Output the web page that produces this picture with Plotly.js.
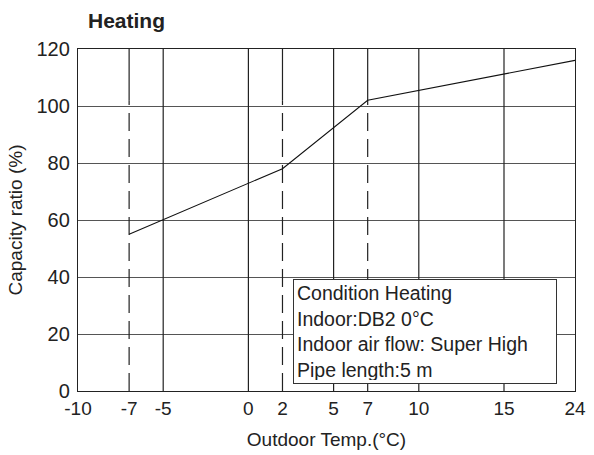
<!DOCTYPE html>
<html>
<head>
<meta charset="utf-8">
<script src="https://cdn.plot.ly/plotly-3.0.1.min.js"></script>
<style>html,body{margin:0;padding:0;background:#fff;}#chart{width:594px;height:455px;}</style>
</head>
<body>
<div id="chart"></div>
<script>
// ---- data ----
const xTickValues = [-10, -7, -5, 0, 2, 5, 7, 10, 15, 24];
const dashedTicks = [-7, 2, 7];
const tempX = [-7, 2, 7, 24];
const capacityY = [55, 78, 102, 116];
const yTickValues = [0, 20, 40, 60, 80, 100, 120];
const conditionLines = ["Condition Heating", "Indoor:DB2 0°C", "Indoor air flow: Super High", "Pipe length:5 m"];

// ---- axis mapping (scale compressed above 15 °C, as in the original) ----
const breakAt = 15, compress = 0.463;
const disp = v => v <= breakAt ? v : breakAt + (v - breakAt) * compress;

const FONT = "Liberation Sans, Arial, Helvetica, sans-serif";
const xMin = disp(xTickValues[0]), xMax = disp(xTickValues[xTickValues.length - 1]);
const yMin = yTickValues[0], yMax = yTickValues[yTickValues.length - 1];
const dashSwitch = 102;

const shapes = [];
xTickValues.slice(1, -1).forEach(v => {
  const xv = disp(v);
  if (dashedTicks.includes(v)) {
    shapes.push({type: 'line', xref: 'x', yref: 'y', x0: xv, x1: xv, y0: dashSwitch, y1: yMax,
      layer: 'between', line: {color: '#222', width: 1.2}});
    shapes.push({type: 'line', xref: 'x', yref: 'y', x0: xv, x1: xv, y0: yMin, y1: dashSwitch,
      layer: 'between', line: {color: '#222', width: 1.2, dash: '18px,8px'}});
  } else {
    shapes.push({type: 'line', xref: 'x', yref: 'y', x0: xv, x1: xv, y0: yMin, y1: yMax,
      layer: 'between', line: {color: '#222', width: 1.2}});
  }
});

const trace = {
  x: tempX.map(disp), y: capacityY, type: 'scatter', mode: 'lines',
  line: {color: '#111', width: 1.1}, hoverinfo: 'skip'
};

const layout = {
  width: 594, height: 455,
  margin: {l: 78, r: 19, t: 49, b: 64},
  paper_bgcolor: '#fff', plot_bgcolor: '#fff',
  showlegend: false,
  font: {family: FONT, size: 19, color: '#222'},
  title: {text: '<b>Heating</b>', x: 88/594, xanchor: 'left', xref: 'container',
          y: 1 - 21/455, yanchor: 'middle', yref: 'container', font: {family: FONT, size: 21, color: '#222'}},
  xaxis: {
    range: [xMin, xMax], tickmode: 'array',
    tickvals: xTickValues.map(disp), ticktext: xTickValues.map(String),
    showgrid: false, zeroline: false, showline: true, mirror: true,
    linecolor: '#222', linewidth: 1.2, ticks: '', tickfont: {size: 19},
    title: {text: 'Outdoor Temp.(°C)', font: {size: 19}, standoff: 14}
  },
  yaxis: {
    range: [yMin, yMax], tickmode: 'array', tickvals: yTickValues,
    showgrid: true, gridcolor: '#555', gridwidth: 1, zeroline: false,
    showline: true, mirror: true, linecolor: '#222', linewidth: 1.2,
    ticks: '', tickfont: {size: 20}, ticklabelstandoff: 3,
    title: {text: 'Capacity ratio (%)', font: {size: 19}, standoff: 8}
  },
  shapes: shapes,
  annotations: [{
    xref: 'paper', yref: 'paper', x: (293 - 78) / 497, y: (391 - 279) / 342,
    xanchor: 'left', yanchor: 'top', align: 'left', showarrow: false,
    text: conditionLines.join('<br>'),
    font: {family: FONT, size: 19.5, color: '#222'},
    bgcolor: '#fff', bordercolor: '#333', borderwidth: 1, borderpad: 3,
    width: 256, height: 97, valign: 'middle'
  }]
};

Plotly.newPlot('chart', [trace], layout, {displayModeBar: false, staticPlot: true});
</script>
</body>
</html>
